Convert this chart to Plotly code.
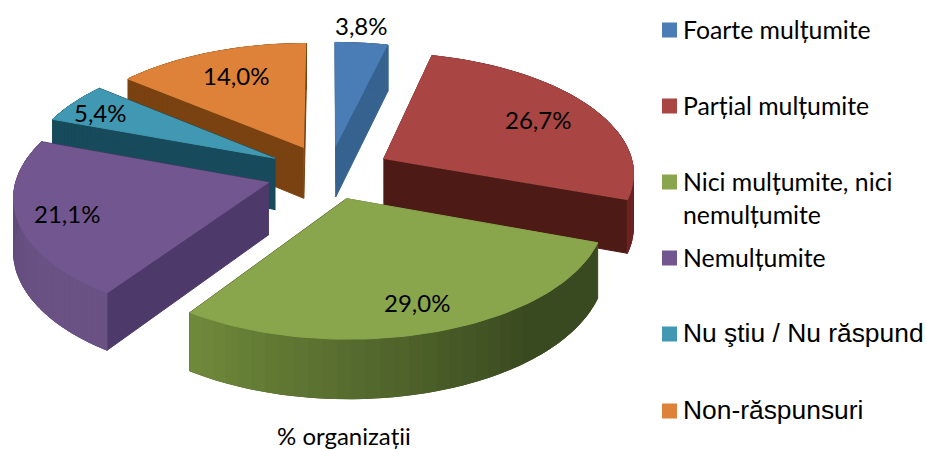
import math
import plotly.graph_objects as go

categories = ["Foarte mulțumite", "Parțial mulțumite", "Nici mulțumite, nici nemulțumite",
              "Nemulțumite", "Nu ştiu / Nu răspund", "Non-răspunsuri"]
values = [3.8, 26.7, 29.0, 21.1, 5.4, 14.0]
title_text = "% organizații"

top_colors = ["#4a7cb5", "#a94543", "#8aa64d", "#72568f", "#4198b2", "#dd8238"]
side_colors = ["#35628f", "#4d1a15", "#4d6128", "#4d3a6b", "#174a5a", "#7a4210"]
wall_start = ["#35628f", "#6b2422", "#3a4a20", "#6a5285", "#174a5a", "#7a4210"]
wall_end = ["#35628f", "#6b2422", "#708a3b", "#5c4672", "#174a5a", "#7a4210"]
pull = [0.23, 0.25, 0.22, 0.25, 0.25, 0.24]
draw_order = [0, 5, 4, 1, 3, 2]
label_xy = [(361, 25), (538, 119), (417, 302), (67, 213), (100, 112), (236, 75)]
legend_y = [30, 106, 182, 258, 334, 411]

CX, CY, S, A, K, H = 329, 173, 251, 120, 0.105, 52


def mix(c1, c2, t):
    a = [int(c1[i:i + 2], 16) for i in (1, 3, 5)]
    b = [int(c2[i:i + 2], 16) for i in (1, 3, 5)]
    return "#" + "".join(f"{round(p + (q - p) * t):02x}" for p, q in zip(a, b))


def project(px, py, low=False):
    w = 1 / (1 - K * py)
    return (CX + S * px * w, CY + A * py * w + (H * w if low else 0))


total = sum(values)
fig = go.Figure()


def poly(pts, color):
    fig.add_trace(go.Scatter(x=[p[0] for p in pts], y=[p[1] for p in pts], mode="lines",
                             fill="toself", fillcolor=color, line=dict(color=color, width=1),
                             hoverinfo="skip", showlegend=False))


spans = []
acc = 0
for v in values:
    spans.append((acc / total * 2 * math.pi, (acc + v) / total * 2 * math.pi))
    acc += v

for i in draw_order:
    a0, a1 = spans[i]
    mid = (a0 + a1) / 2
    ox, oy = pull[i] * math.sin(mid), -pull[i] * math.cos(mid)
    n = max(6, int((a1 - a0) * 40))
    angs = [a0 + (a1 - a0) * k / n for k in range(n + 1)]
    rim = [(ox + math.sin(t), oy - math.cos(t)) for t in angs]
    for e in (rim[0], rim[-1]):
        poly([project(ox, oy), project(*e), project(*e, True), project(ox, oy, True)], side_colors[i])
    poly([project(*p) for p in rim] + [project(*p, True) for p in reversed(rim)],
         mix(wall_start[i], wall_end[i], 0.5))
    step = max(1, n // 36)
    for k in range(0, n, step):
        seg = rim[k:k + step + 1]
        t = max(0.0, ((k + step / 2) / n - 0.3) / 0.7)
        poly([project(*p) for p in seg] + [project(*p, True) for p in reversed(seg)],
             mix(wall_start[i], wall_end[i], t))
    poly([project(ox, oy)] + [project(*p) for p in rim], top_colors[i])

fig.add_trace(go.Scatter(x=[669.5] * 6, y=legend_y, mode="markers",
                         marker=dict(symbol="square", size=15, color=top_colors, line=dict(width=0)),
                         hoverinfo="skip", showlegend=False))


def note(x, y, text, size, family="Lato", anchor="center"):
    fig.add_annotation(x=x, y=y, text=text, showarrow=False, xanchor=anchor, yanchor="middle",
                       font=dict(family=family, size=size, color="#000000"))


for v, (x, y) in zip(values, label_xy):
    note(x, y, f"{v:.1f}%".replace(".", ","), 24)
note(344, 435, title_text, 24)

note(681, 29, categories[0], 24.8, anchor="left")
note(681, 105, categories[1], 24.8, anchor="left")
note(681, 181, "Nici mulțumite, nici", 24.8, anchor="left")
note(681, 214, "nemulțumite", 24.8, anchor="left")
note(681, 257, categories[3], 24.8, anchor="left")
note(681, 333, categories[4], 26.4, family="Liberation Sans", anchor="left")
note(681, 410, categories[5], 26.4, family="Liberation Sans", anchor="left")

fig.update_layout(width=927, height=449, margin=dict(l=0, r=0, t=0, b=0), autosize=False,
                  paper_bgcolor="white", plot_bgcolor="white",
                  xaxis=dict(range=[0, 927], visible=False, fixedrange=True),
                  yaxis=dict(range=[449, 0], visible=False, fixedrange=True))
fig.write_html("out.html", config=dict(displayModeBar=False),
               post_script="document.body.style.margin='0';document.documentElement.style.overflow='hidden';")
